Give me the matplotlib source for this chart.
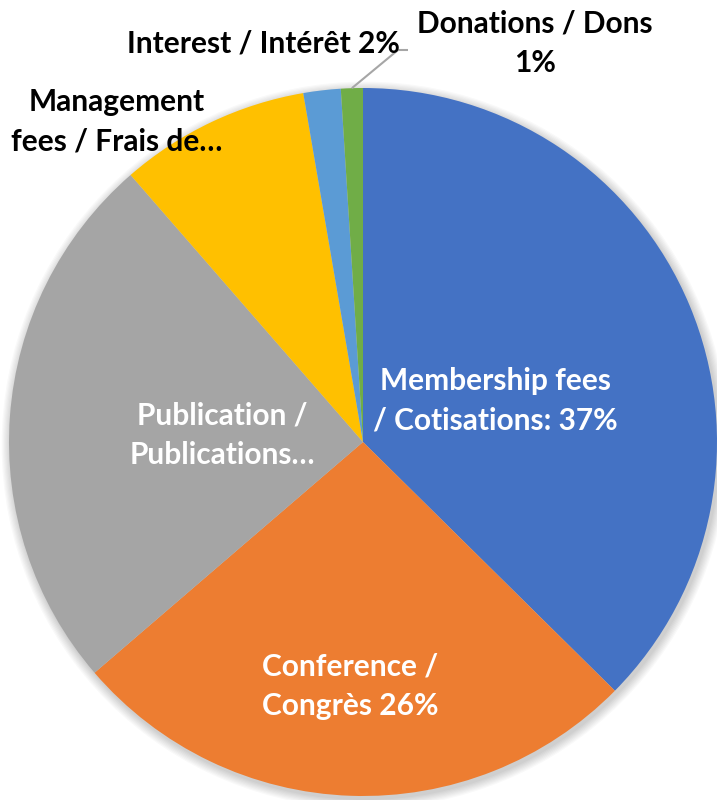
import numpy as np
import matplotlib
matplotlib.use('Agg')
import matplotlib.pyplot as plt
import matplotlib.patches as mpatches

plt.rcParams['font.family'] = ['Lato', 'DejaVu Sans']

labels = ['Membership fees\n/ Cotisations: 37%', 'Conference /\nCongrès 26%',
          'Publication /\nPublications…', 'Management\nfees / Frais de…',
          'Interest / Intérêt 2%', 'Donations / Dons\n1%']
shares = [37.4, 26.3, 24.9, 8.7, 1.7, 1.0]
colors = ['#4472C4', '#ED7D31', '#A5A5A5', '#FFC000', '#5B9BD5', '#70AD47']
text_colors = ['white', 'white', 'white', 'black', 'black', 'black']

# layout (pixel coords, y measured from top)
W, H = 717, 800
cx, cy, r = 363, 442, 354
label_pos = [(495, 401), (350, 686), (222, 435), (117, 122), (263, 44), (535, 43)]

fig = plt.figure(figsize=(W / 100, H / 100), dpi=100)
ax = fig.add_axes([0, 0, 1, 1])

# soft shadow
for i in range(8):
    ax.add_patch(mpatches.Circle((cx + 2, H - cy - 3), r + 1 + i * 1.2,
                                 color='black', alpha=0.025, lw=0, zorder=1))

wedges, _ = ax.pie(shares, colors=colors, startangle=90, counterclock=False,
                   center=(cx, H - cy), radius=r, frame=True,
                   wedgeprops=dict(linewidth=0))
ax.set_xlim(0, W)
ax.set_ylim(0, H)
ax.set_aspect('equal')
ax.axis('off')
for w in wedges:
    w.set_zorder(2)

for lab, (x, y), c in zip(labels, label_pos, text_colors):
    ax.text(x, H - y, lab, color=c, fontsize=21.5, fontweight='bold',
            ha='center', va='center', multialignment='center',
            linespacing=1.5, zorder=5)

# leader line for the donations slice
w = wedges[-1]
mid = np.deg2rad((w.theta1 + w.theta2) / 2)
px, py = cx + r * np.cos(mid), H - cy + r * np.sin(mid)
ax.plot([px, 398, 408], [py, H - 50, H - 50], color='#A6A6A6', lw=1.5,
        solid_capstyle='butt', zorder=4)

fig.savefig('out.png', dpi=100, facecolor='white')
